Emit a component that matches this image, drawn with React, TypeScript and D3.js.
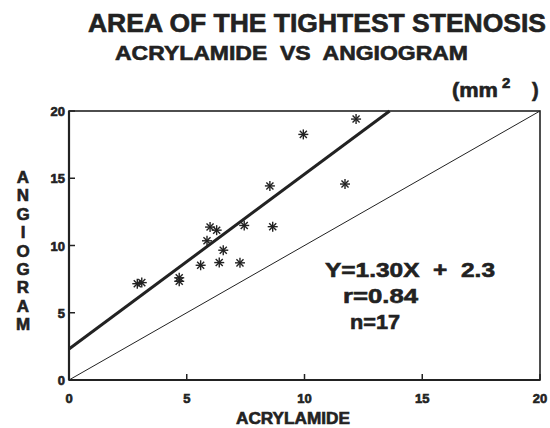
import React from 'react';
import * as d3 from 'd3';

// values (mm^2)
const acrylamide = [2.9, 3.09, 4.68, 4.68, 5.59, 5.86, 5.99, 6.27, 6.38, 6.55, 7.26, 7.44, 8.53, 8.65, 9.95, 11.72, 12.19];
const angiogram = [7.16, 7.24, 7.6, 7.34, 8.53, 10.35, 11.37, 11.14, 8.73, 9.65, 8.71, 11.49, 14.43, 11.4, 18.26, 14.57, 19.4];
const ticks = [0, 5, 10, 15, 20];
const slope = 1.3;
const intercept = 2.3;
const yLabel = 'ANGIOGRAM'.split('');

const font = '"Liberation Sans", Arial, sans-serif';
const ink = '#222';

export default function App() {
  const width = 550;
  const height = 428;
  const margin = { top: 111, right: 10, bottom: 48, left: 69 };

  const x = d3.scaleLinear().domain([0, 20]).range([margin.left, width - margin.right]);
  const y = d3.scaleLinear().domain([0, 20]).range([height - margin.bottom, margin.top]);

  // regression line, stops where it meets the top of the frame
  const xEnd = (20 - intercept) / slope;
  const fitLine = d3.line<number>().x(d => x(d)).y(d => y(slope * d + intercept))([0, xEnd]);
  const idLine = d3.line<number>().x(d => x(d)).y(d => y(d))([0, 20]);

  const star = (cx: number, cy: number, i: number) => {
    const r = 5;
    const d = r * Math.SQRT1_2;
    return (
      <g key={i} stroke={ink} strokeWidth={1.4}>
        <line x1={cx - r} y1={cy} x2={cx + r} y2={cy} />
        <line x1={cx} y1={cy - r} x2={cx} y2={cy + r} />
        <line x1={cx - d} y1={cy - d} x2={cx + d} y2={cy + d} />
        <line x1={cx - d} y1={cy + d} x2={cx + d} y2={cy - d} />
      </g>
    );
  };

  const heavy = { stroke: ink, strokeWidth: 0.6 };

  return (
    <svg width={width} height={height} style={{ position: 'absolute', left: 0, top: 0, background: '#fff' }}
      fontFamily={font} fontWeight="bold" fill={ink}>
      <text x={88} y={32} fontSize={25} textLength={458} lengthAdjust="spacingAndGlyphs" {...heavy}>AREA OF THE TIGHTEST STENOSIS</text>
      <text x={115} y={60} fontSize={20} textLength={353} lengthAdjust="spacingAndGlyphs" style={{ whiteSpace: 'pre' }} {...heavy}>ACRYLAMIDE  VS  ANGIOGRAM</text>
      <text x={452} y={97} fontSize={20} textLength={46} lengthAdjust="spacingAndGlyphs" {...heavy}>(mm</text>
      <text x={502} y={88} fontSize={15} {...heavy}>2</text>
      <text x={532} y={97} fontSize={20} {...heavy}>)</text>

      {/* frame */}
      <rect x={x(0)} y={y(20)} width={x(20) - x(0)} height={y(0) - y(20)} fill="none" stroke={ink} strokeWidth={1.6} />
      <line x1={x(0)} y1={y(0)} x2={x(0)} y2={y(20)} stroke={ink} strokeWidth={2.2} />
      <line x1={x(0)} y1={y(0)} x2={x(20)} y2={y(0)} stroke={ink} strokeWidth={2.2} />

      {ticks.map(t => (
        <g key={'x' + t}>
          <line x1={x(t)} x2={x(t)} y1={y(0)} y2={y(0) - 6} stroke={ink} strokeWidth={1.5} />
          <text x={x(t)} y={403} fontSize={13} textAnchor="middle" {...heavy}>{t}</text>
        </g>
      ))}
      {ticks.map(t => (
        <g key={'y' + t}>
          <line x1={x(0)} x2={x(0) + 6} y1={y(t)} y2={y(t)} stroke={ink} strokeWidth={1.5} />
          <text x={65} y={y(t) + 5} fontSize={13} textAnchor="end" {...heavy}>{t}</text>
        </g>
      ))}

      <path d={idLine ?? ''} stroke={ink} strokeWidth={1} fill="none" />
      <path d={fitLine ?? ''} stroke={ink} strokeWidth={3} fill="none" />

      {acrylamide.map((v, i) => star(x(v), y(angiogram[i]), i))}

      <text x={325} y={277} fontSize={21} textLength={170} lengthAdjust="spacingAndGlyphs" style={{ whiteSpace: 'pre' }} {...heavy}>Y=1.30X  +  2.3</text>
      <text x={343} y={303} fontSize={21} textLength={75} lengthAdjust="spacingAndGlyphs" {...heavy}>r=0.84</text>
      <text x={350} y={329} fontSize={21} textLength={50} lengthAdjust="spacingAndGlyphs" {...heavy}>n=17</text>

      {yLabel.map((c, i) => (
        <text key={i} x={23} y={183 + i * 18.4} fontSize={17} textAnchor="middle" {...heavy}>{c}</text>
      ))}
      <text x={293} y={424} fontSize={16} textAnchor="middle" textLength={114} lengthAdjust="spacingAndGlyphs" {...heavy}>ACRYLAMIDE</text>
    </svg>
  );
}
